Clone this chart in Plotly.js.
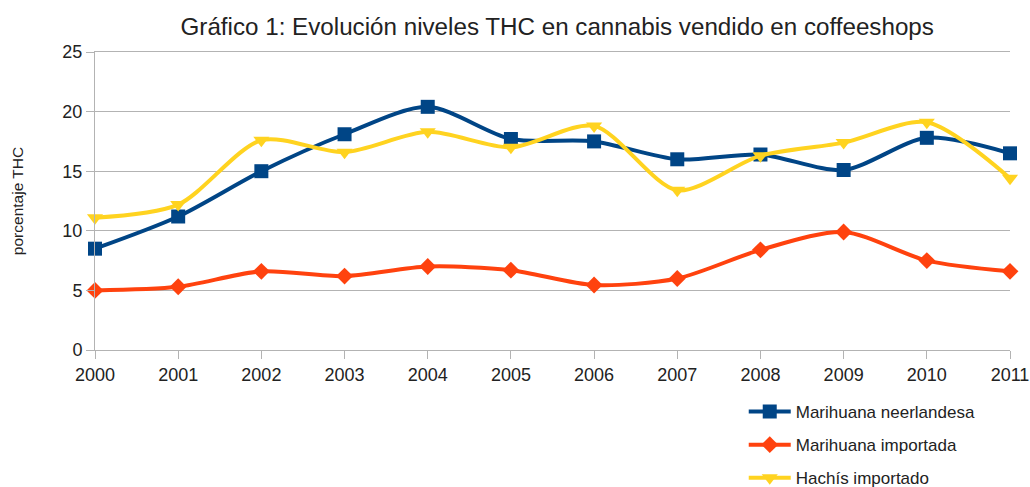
<!DOCTYPE html>
<html>
<head>
<meta charset="utf-8">
<script src="https://cdn.plot.ly/plotly-3.0.1.min.js"></script>
<style>html,body{margin:0;padding:0;background:#fff;}#chart{width:1030px;height:487px;}</style>
</head>
<body>
<div id="chart"></div>
<script>
const years = [2000, 2001, 2002, 2003, 2004, 2005, 2006, 2007, 2008, 2009, 2010, 2011];
const marihuanaNeerlandesa = [8.5, 11.2, 15.0, 18.1, 20.4, 17.7, 17.5, 16.0, 16.4, 15.1, 17.8, 16.5];
const marihuanaImportada = [5.0, 5.3, 6.6, 6.2, 7.0, 6.7, 5.45, 6.0, 8.4, 9.9, 7.5, 6.6];
const hachisImportado = [11.1, 12.2, 17.6, 16.6, 18.3, 17.0, 18.8, 13.4, 16.3, 17.4, 19.1, 14.4];
const seriesNames = ['Marihuana neerlandesa', 'Marihuana importada', 'Hachís importado'];
const yTicks = [0, 5, 10, 15, 20, 25];

const common = {x: years, mode: 'lines+markers', cliponaxis: false};
const traces = [
  Object.assign({}, common, {y: marihuanaNeerlandesa, name: seriesNames[0], legendgroup: 'a',
    line: {color: '#004586', width: 4, shape: 'spline', smoothing: 0.8},
    marker: {symbol: 'square', size: 14, color: '#004586'}}),
  Object.assign({}, common, {y: marihuanaImportada, name: seriesNames[1], legendgroup: 'b',
    line: {color: '#ff420e', width: 4, shape: 'spline', smoothing: 0.8},
    marker: {symbol: 'diamond', size: 13, color: '#ff420e'}}),
  Object.assign({}, common, {y: hachisImportado, name: seriesNames[2], legendgroup: 'c',
    line: {color: '#ffd320', width: 4, shape: 'spline', smoothing: 0.8},
    marker: {symbol: 'triangle-down', size: 14, color: '#ffd320'}})
];

const layout = {
  width: 1030, height: 487,
  margin: {l: 95, r: 20, t: 52, b: 137},
  paper_bgcolor: '#fff', plot_bgcolor: '#fff',
  font: {family: 'Liberation Sans, Arial, sans-serif', color: '#222'},
  title: {text: 'Gráfico 1: Evolución niveles THC en cannabis vendido en coffeeshops',
    font: {size: 24.2, family: 'Liberation Sans, Arial, sans-serif', color: '#222'},
    x: 0.541, xanchor: 'center', y: 0.945, yanchor: 'middle'},
  xaxis: {range: [2000, 2011], tickvals: years, ticktext: years.map(String),
    showgrid: false, zeroline: false, showline: true, linecolor: '#b3b3b3', linewidth: 1, mirror: true,
    ticks: 'outside', ticklen: 8, tickcolor: '#b3b3b3',
    tickfont: {size: 18, color: '#222'}},
  yaxis: {range: [0, 25], tickvals: yTicks, showgrid: true, gridcolor: '#b3b3b3', gridwidth: 1,
    zeroline: false, showline: true, linecolor: '#b3b3b3', linewidth: 1,
    ticks: 'outside', ticklen: 8, tickcolor: '#b3b3b3',
    tickfont: {size: 18, color: '#222'},
    title: {text: 'porcentaje THC', font: {size: 15.5, color: '#222'}, standoff: 34}},
  showlegend: true,
  legend: {x: 0.709, xanchor: 'left', xref: 'paper', y: 0.191, yanchor: 'top', yref: 'container',
    orientation: 'v', font: {size: 17, color: '#222'}, tracegroupgap: 8, itemwidth: 42,
    bgcolor: 'rgba(0,0,0,0)'}
};

Plotly.newPlot('chart', traces, layout, {displayModeBar: false, staticPlot: true});
</script>
</body>
</html>
